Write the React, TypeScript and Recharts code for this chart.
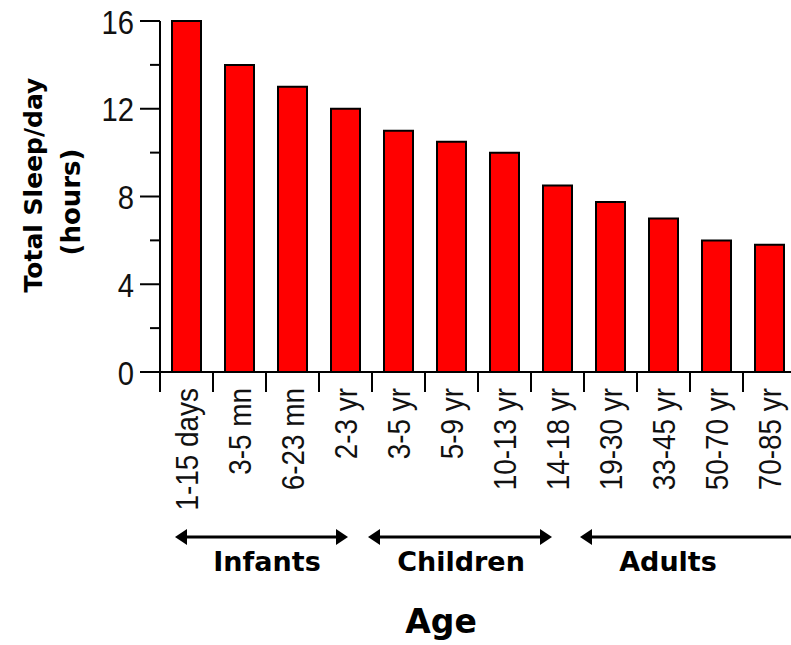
import React from "react";
import { BarChart, Bar, XAxis, YAxis } from "recharts";

// values
const ageGroups = [
  "1-15 days",
  "3-5 mn",
  "6-23 mn",
  "2-3 yr",
  "3-5 yr",
  "5-9 yr",
  "10-13 yr",
  "14-18 yr",
  "19-30 yr",
  "33-45 yr",
  "50-70 yr",
  "70-85 yr",
];
const sleepHours = [16, 14, 13, 12, 11, 10.5, 10, 8.5, 7.75, 7, 6, 5.8];
const hourTicks = [0, 2, 4, 6, 8, 10, 12, 14, 16];
const lifeStages = ["Infants", "Children", "Adults"];

const data = ageGroups.map((age, i) => ({ age, hours: sleepHours[i] }));

const CHART_W = 800;
const CHART_H = 645;
const LEFT = 160;
const RIGHT = 4;
const BAND = (CHART_W - LEFT - RIGHT) / ageGroups.length;

const tickFont = "'Liberation Sans', Arial, sans-serif";
const boldFont = "'DejaVu Sans', Verdana, sans-serif";

const HourTick = (props: any) => {
  const { x, y, payload } = props;
  const major = payload.value % 4 === 0;
  return (
    <g>
      <line x1={x - (major ? 20 : 10)} y1={y} x2={x} y2={y} stroke="#000" strokeWidth={2} />
      {major && (
        <g transform={`translate(${x - 26},${y}) scale(0.86,1)`}>
          <text
            x={0}
            y={0}
            dy="0.37em"
            textAnchor="end"
            fontFamily={tickFont}
            fontSize={34}
            fill="#111"
          >
            {payload.value}
          </text>
        </g>
      )}
    </g>
  );
};

const AgeTick = (props: any) => {
  const { x, y, payload } = props;
  const left = x - BAND / 2;
  return (
    <g>
      <line x1={left} y1={y} x2={left} y2={y + 20} stroke="#000" strokeWidth={2} />
      <g transform={`translate(${x},${y + 16}) rotate(-90) scale(0.9,1)`}>
        <text
          x={0}
          y={0}
          dy="0.36em"
          textAnchor="end"
          fontFamily={tickFont}
          fontSize={31}
          fill="#111"
        >
          {payload.value}
        </text>
      </g>
    </g>
  );
};

// stage arrows under the axis: [x start, x end, label centre]
const stageSpans = [
  [175, 348, 267],
  [368, 552, 461],
  [580, 806, 668],
];

const Arrow = ({ x1, x2, y }: { x1: number; x2: number; y: number }) => (
  <g>
    <line x1={x1 + 4} y1={y} x2={x2 - 4} y2={y} stroke="#000" strokeWidth={3} />
    <polygon points={`${x1},${y} ${x1 + 12},${y - 8} ${x1 + 12},${y + 8}`} fill="#000" />
    <polygon points={`${x2},${y} ${x2 - 12},${y - 8} ${x2 - 12},${y + 8}`} fill="#000" />
  </g>
);

export default function App() {
  return (
    <div
      style={{
        position: "absolute",
        left: 0,
        top: 0,
        width: 791,
        height: 645,
        overflow: "hidden",
        background: "#fff",
      }}
    >
      <BarChart
        width={CHART_W}
        height={CHART_H}
        data={data}
        margin={{ top: 21, right: RIGHT, left: 0, bottom: 0 }}
        barSize={29}
      >
        <XAxis
          dataKey="age"
          interval={0}
          height={273}
          tickLine={false}
          tickSize={0}
          tickMargin={0}
          axisLine={{ stroke: "#000", strokeWidth: 2 }}
          tick={<AgeTick />}
        />
        <YAxis
          width={LEFT}
          domain={[0, 16]}
          ticks={hourTicks}
          interval={0}
          tickLine={false}
          tickSize={0}
          tickMargin={0}
          axisLine={{ stroke: "#000", strokeWidth: 2 }}
          tick={<HourTick />}
        />
        <Bar
          dataKey="hours"
          fill="#ff0000"
          stroke="#000"
          strokeWidth={2}
          isAnimationActive={false}
        />
      </BarChart>
      <svg
        width={791}
        height={645}
        style={{ position: "absolute", left: 0, top: 0, pointerEvents: "none" }}
      >
        <text
          transform="translate(42,185) rotate(-90)"
          textAnchor="middle"
          fontFamily={boldFont}
          fontWeight="bold"
          fontSize={25}
          fill="#000"
        >
          Total Sleep/day
        </text>
        <text
          transform="translate(80,202) rotate(-90)"
          textAnchor="middle"
          fontFamily={boldFont}
          fontWeight="bold"
          fontSize={26}
          fill="#000"
        >
          (hours)
        </text>
        {lifeStages.map((stage, i) => (
          <g key={stage}>
            <Arrow x1={stageSpans[i][0]} x2={stageSpans[i][1]} y={537} />
            <text
              x={stageSpans[i][2]}
              y={571}
              textAnchor="middle"
              fontFamily={boldFont}
              fontWeight="bold"
              fontSize={27}
              fill="#000"
            >
              {stage}
            </text>
          </g>
        ))}
        <text
          x={441}
          y={633}
          textAnchor="middle"
          fontFamily={boldFont}
          fontWeight="bold"
          fontSize={33}
          fill="#000"
        >
          Age
        </text>
      </svg>
    </div>
  );
}
